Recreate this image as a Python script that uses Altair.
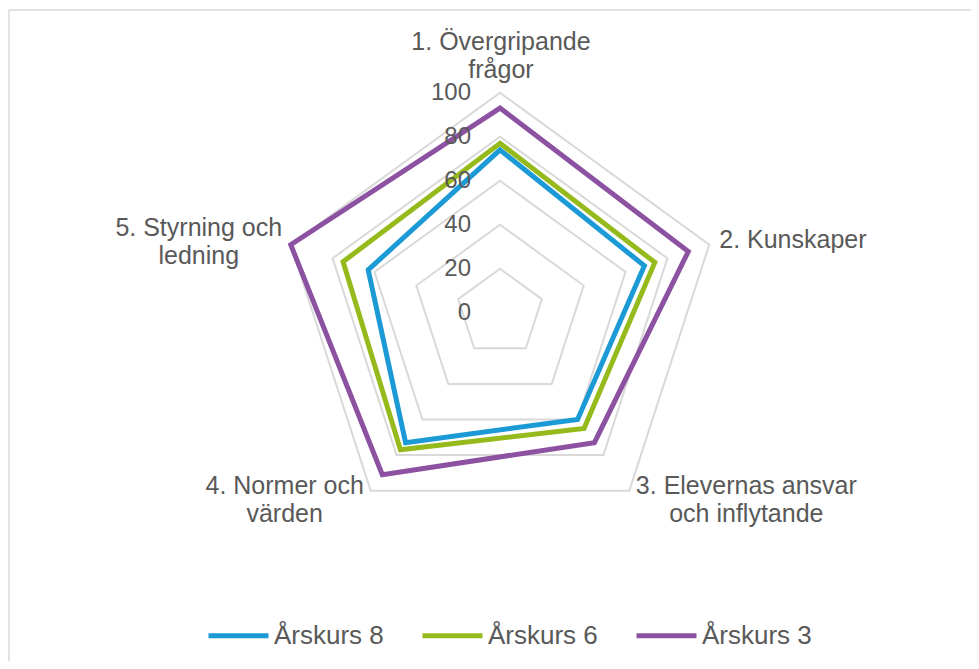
import altair as alt
import pandas as pd

# ---- data ----
categories = ["1. Övergripande\nfrågor", "2. Kunskaper", "3. Elevernas ansvar\noch inflytande",
              "4. Normer och\nvärden", "5. Styrning och\nledning"]
series = ["Årskurs 8", "Årskurs 6", "Årskurs 3"]
arskurs_8 = [74, 69, 60, 73, 63]
arskurs_6 = [77, 74, 65, 77, 75]
arskurs_3 = [93, 90, 73, 91, 100]
ticks = [0, 20, 40, 60, 80, 100]
colors = ["#1C9AD6", "#96BA1C", "#8C52A1"]

# ---- layout ----
W, H = 963, 653
CX, CY = 492, 304.7
PX = 2.2
xdom = [-CX / PX, (W - CX) / PX]
ydom = [-(H - CY) / PX, CY / PX]
FONT = "Liberation Sans"
TXT = "#595959"
GRID = "#D9D9D9"
N = len(categories)

xs = alt.X("x:Q", scale=alt.Scale(domain=xdom, nice=False, zero=False), axis=None)
ys = alt.Y("y:Q", scale=alt.Scale(domain=ydom, nice=False, zero=False), axis=None)

ang = f"PI/2 - datum.idx*2*PI/{N}"

# series table
rows = []
for name, vals in zip(series, [arskurs_8, arskurs_6, arskurs_3]):
    for i, v in enumerate(vals):
        rows.append({"series": name, "idx": i, "value": v})
df = pd.DataFrame(rows)

grid_df = pd.DataFrame([{"level": t, "idx": i} for t in ticks if t > 0 for i in range(N)])
tick_df = pd.DataFrame({"tick": ticks})
cat_df = pd.DataFrame({"idx": list(range(N)), "label": categories})

grid = alt.Chart(grid_df).transform_calculate(
    a=ang
).transform_calculate(
    x="datum.level*cos(datum.a)", y="datum.level*sin(datum.a)"
).mark_line(interpolate="linear-closed", color=GRID, strokeWidth=2).encode(
    x=xs, y=ys, detail="level:N", order="idx:Q"
)

lines = alt.Chart(df).transform_calculate(
    a=ang
).transform_calculate(
    x="datum.value*cos(datum.a)", y="datum.value*sin(datum.a)"
).mark_line(interpolate="linear-closed", strokeWidth=5, strokeJoin="miter").encode(
    x=xs, y=ys, order="idx:Q",
    color=alt.Color("series:N", scale=alt.Scale(domain=series, range=colors),
                    legend=alt.Legend(title=None, orient="none", legendX=198, legendY=595,
                                      direction="horizontal", symbolType="stroke",
                                      symbolSize=3600, symbolStrokeWidth=5,
                                      labelFont=FONT, labelFontSize=26, labelColor=TXT,
                                      labelOffset=3, columnPadding=28, labelLimit=300))
)

tick_labels = alt.Chart(tick_df).transform_calculate(
    x="0", y="datum.tick"
).mark_text(align="right", baseline="middle", dx=-29, font=FONT, fontSize=24, color=TXT).encode(
    x=xs, y=ys, text="tick:Q"
)

label_specs = [
    dict(align="center", dx=1, dy=-51),
    dict(align="left", dx=10, dy=-5),
    dict(align="center", dx=117, dy=-5),
    dict(align="center", dx=-86, dy=-5),
    dict(align="center", dx=-92, dy=-17),
]
rmax = ticks[-1]
cat_layers = []
for k, spec in enumerate(label_specs):
    cat_layers.append(
        alt.Chart(cat_df).transform_filter(f"datum.idx == {k}").transform_calculate(
            a=ang
        ).transform_calculate(
            x=f"{rmax}*cos(datum.a)", y=f"{rmax}*sin(datum.a)"
        ).mark_text(baseline="middle", lineBreak="\n", lineHeight=28, font=FONT,
                    fontSize=25, color=TXT, **spec).encode(x=xs, y=ys, text="label:N")
    )

one = alt.Data(values=[{"a": 1}])
border_top = alt.Chart(one).mark_rule(color=GRID, strokeWidth=1.5).encode(
    x=alt.value(1), x2=alt.value(W), y=alt.value(2))
border_left = alt.Chart(one).mark_rule(color=GRID, strokeWidth=1.5).encode(
    x=alt.value(1), y=alt.value(2), y2=alt.value(H))

chart = alt.layer(border_top, border_left, grid, lines, tick_labels, *cat_layers).properties(
    width=W, height=H, autosize=alt.AutoSizeParams(type="none"), padding=0
).configure_view(stroke=None)

chart.save("out.html", embed_options={"renderer": "svg", "actions": False})
